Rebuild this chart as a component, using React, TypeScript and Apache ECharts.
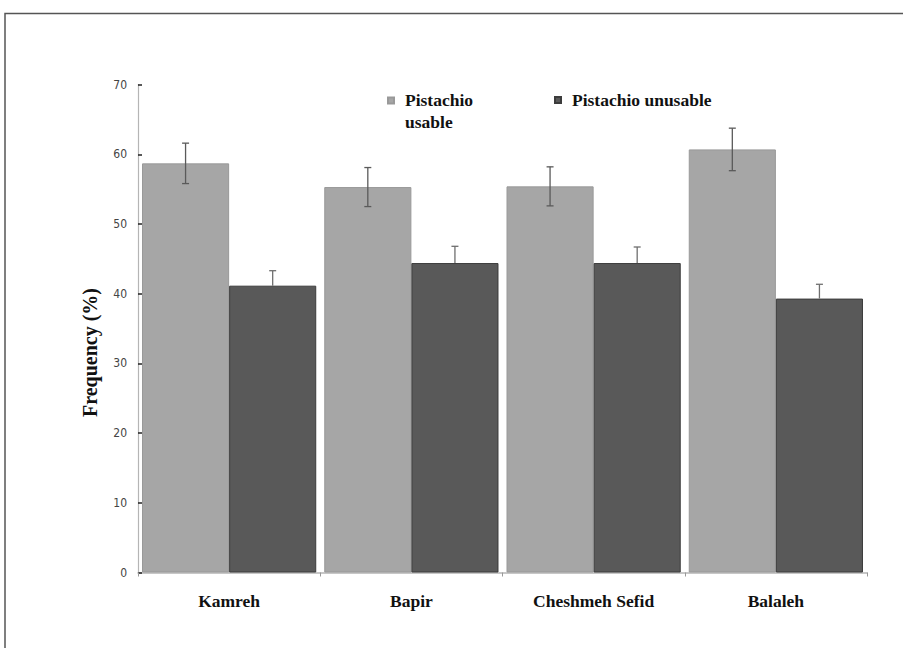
import React, { useEffect, useRef } from "react";
import * as echarts from "echarts";

const categories = ["Kamreh", "Bapir", "Cheshmeh Sefid", "Balaleh"];
const usableMeans = [58.7, 55.3, 55.4, 60.7];
const usableErrors = [2.9, 2.8, 2.8, 3.05];
const unusableMeans = [41.15, 44.4, 44.4, 39.3];
const unusableErrors = [2.15, 2.4, 2.3, 2.05];
const seriesNames = ["Pistachio usable", "Pistachio unusable"];
const yTicks = [0, 10, 20, 30, 40, 50, 60, 70];

const BAR_CAT_GAP = 0.044;

function makeErrorRenderer(side: number) {
  return (params: any, api: any) => {
    const idx = api.value(0);
    const mean = api.value(1);
    const err = api.value(2);
    const catW = api.size([1, 0])[0];
    const barW = (catW * (1 - BAR_CAT_GAP)) / 2;
    const center = api.coord([idx, mean]);
    const x = center[0] + side * barW / 2;
    const top = api.coord([idx, mean + err])[1];
    const bot = side < 0 ? api.coord([idx, mean - err])[1] : center[1];
    const cap = 3.5;
    const style = { stroke: side < 0 ? "#5a5a5a" : "#6f6f6f", lineWidth: 1.3 };
    const children: any[] = [
      { type: "line", shape: { x1: x, y1: top, x2: x, y2: bot }, style },
      { type: "line", shape: { x1: x - cap, y1: top, x2: x + cap, y2: top }, style },
    ];
    if (side < 0) {
      children.push({ type: "line", shape: { x1: x - cap, y1: bot, x2: x + cap, y2: bot }, style });
    }
    return { type: "group", children };
  };
}

export default function App() {
  const ref = useRef<HTMLDivElement>(null);
  useEffect(() => {
    if (!ref.current) return;
    const chart = echarts.init(ref.current, undefined, { renderer: "svg" });
    const serif = "'Liberation Serif', 'Times New Roman', serif";
    const topIcon = "path://M0,0L0.01,0M0,7.5L6,7.5L6,13.5L0,13.5ZM0,42L0.01,42";
    chart.setOption({
      animation: false,
      backgroundColor: "#ffffff",
      grid: { left: 138, right: 36, top: 84.6, bottom: 75.5, containLabel: false },
      legend: [
        {
          data: [{ name: seriesNames[0], icon: topIcon }],
          left: 382,
          top: 84,
          itemWidth: 6,
          itemHeight: 42,
          formatter: () => "Pistachio\nusable",
          textStyle: { fontFamily: serif, fontWeight: "bold", fontSize: 17.5, color: "#111", lineHeight: 22, padding: [0, 0, 0, 6] },
        },
        {
          data: [seriesNames[1]],
          left: 549,
          top: 86,
          icon: "rect",
          itemWidth: 6,
          itemHeight: 6,
          textStyle: { fontFamily: serif, fontWeight: "bold", fontSize: 17.5, color: "#111", padding: [0, 0, 0, 6] },
        },
      ],
      xAxis: {
        type: "category",
        data: categories,
        axisLine: { show: true, lineStyle: { color: "#b5b5b5", width: 1.5 } },
        axisTick: { show: true, length: 4, lineStyle: { color: "#999" } },
        axisLabel: { fontFamily: serif, fontWeight: "bold", fontSize: 17.5, color: "#111", margin: 19 },
        splitLine: { show: false },
      },
      yAxis: {
        type: "value",
        min: yTicks[0],
        max: yTicks[yTicks.length - 1],
        interval: 10,
        name: "Frequency (%)",
        nameLocation: "middle",
        nameGap: 38,
        nameRotate: 90,
        nameTextStyle: { fontFamily: serif, fontWeight: "bold", fontSize: 20, color: "#111", padding: [0, 48, 0, 0] },
        axisLine: { show: true, lineStyle: { color: "#b5b5b5", width: 1.2 } },
        axisTick: { show: true, inside: true, length: 4, lineStyle: { color: "#222", width: 1.5 } },
        axisLabel: { fontFamily: "'Liberation Sans Narrow', 'DejaVu Sans Condensed', sans-serif", fontSize: 12, color: "#444", margin: 11 },
        splitLine: { show: false },
      },
      series: [
        {
          name: seriesNames[0],
          type: "bar",
          data: usableMeans,
          barGap: "0%",
          barCategoryGap: (BAR_CAT_GAP * 100) + "%",
          itemStyle: { color: "#a6a6a6", borderColor: "#999999", borderWidth: 1 },
        },
        {
          name: seriesNames[1],
          type: "bar",
          data: unusableMeans,
          barGap: "0%",
          barCategoryGap: (BAR_CAT_GAP * 100) + "%",
          itemStyle: { color: "#595959", borderColor: "#3c3c3c", borderWidth: 1 },
        },
        {
          type: "custom",
          name: "usable-err",
          renderItem: makeErrorRenderer(-1),
          data: usableMeans.map((m, i) => [i, m, usableErrors[i]]),
          encode: { x: 0, y: [1] },
          z: 5,
          silent: true,
        },
        {
          type: "custom",
          name: "unusable-err",
          renderItem: makeErrorRenderer(1),
          data: unusableMeans.map((m, i) => [i, m, unusableErrors[i]]),
          encode: { x: 0, y: [1] },
          z: 5,
          silent: true,
        },
      ],
      graphic: [
        {
          type: "polyline",
          shape: { points: [[5, 648], [5, 13.5], [903, 13.5]] },
          style: { stroke: "#555", lineWidth: 1.5, fill: "none" },
          silent: true,
        },
      ],
    });
    return () => chart.dispose();
  }, []);
  return (
    <div
      ref={ref}
      style={{ position: "absolute", left: 0, top: 0, width: 903, height: 648 }}
    />
  );
}
